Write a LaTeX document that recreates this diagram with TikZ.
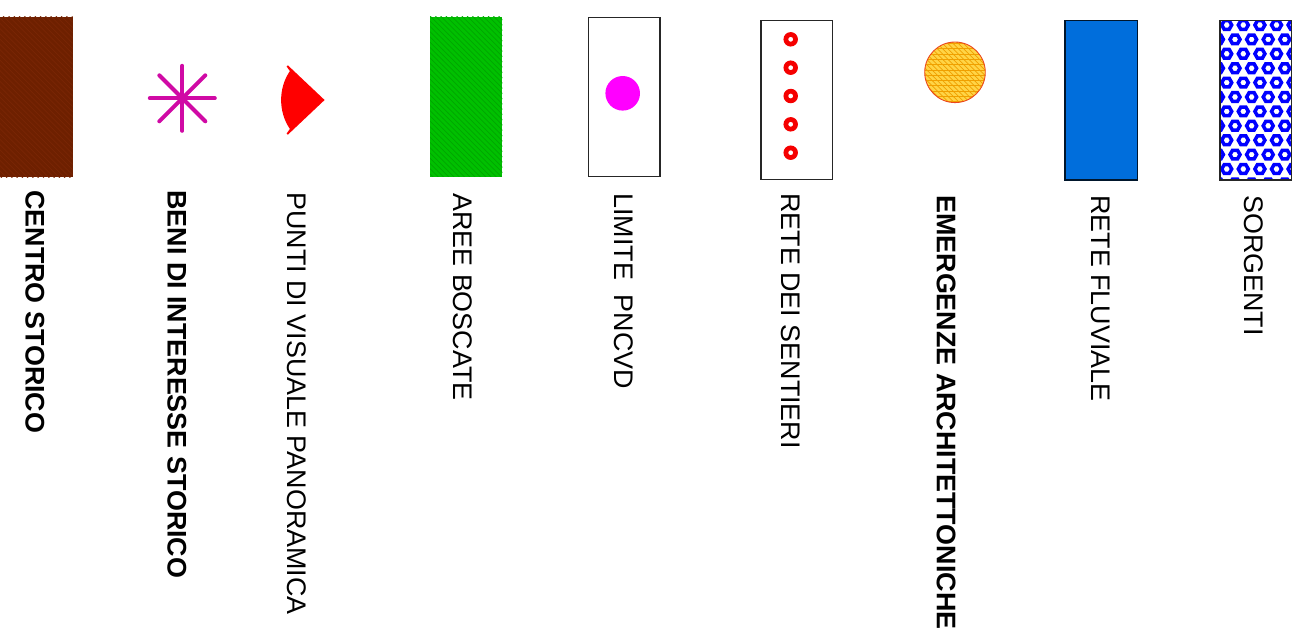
\documentclass[tikz,border=0pt]{standalone}
\usepackage{fontspec}
\setmainfont{Liberation Sans}
\usetikzlibrary{patterns}
\definecolor{brownfill}{RGB}{110,32,0}
\definecolor{brownline}{RGB}{122,38,5}
\definecolor{starmagenta}{RGB}{208,10,165}
\definecolor{viewred}{RGB}{255,0,0}
\definecolor{woodgreen}{RGB}{0,192,0}
\definecolor{woodline}{RGB}{0,165,0}
\definecolor{pncvdmagenta}{RGB}{255,0,255}
\definecolor{trailred}{RGB}{245,0,0}
\definecolor{archyellow}{RGB}{255,212,70}
\definecolor{archline}{RGB}{240,160,0}
\definecolor{archborder}{RGB}{235,70,30}
\definecolor{riverblue}{RGB}{0,110,220}
\definecolor{springblue}{RGB}{0,0,255}

\begin{document}
\begin{tikzpicture}[
    x=0.02cm, y=-0.02cm,
    legendtext/.style={
        rotate=-90, anchor=west, inner sep=0pt,
        font=\fontsize{15.3}{18}\selectfont
    },
    legendbold/.style={
        legendtext, font=\fontsize{15.3}{18}\selectfont\bfseries
    },
    frame/.style={draw=black!85, line width=0.7pt},
    star arm/.style={draw=starmagenta, line width=2.3pt, line cap=round},
    trail ring/.style={fill=trailred, even odd rule},
    hexring/.style={draw=springblue, line width=2pt}
]
\useasboundingbox (0,0) rectangle (1312,640);

% ===== Symbols =====
% centro storico
\fill[brownfill] (0,16.7) rectangle (72.7,177.3);
\fill[pattern=north west lines, pattern color=brownline] (0,16.7) rectangle (72.7,177.3);

% beni di interesse storico
\foreach \a in {0,45,...,135}
    \draw[star arm] (182.3,98.3) ++(\a:0.65cm) -- ++(\a+180:1.3cm);

% punti di visuale panoramica
\draw[fill=viewred, draw=viewred, line width=1pt, line join=miter]
    (323.3,100) -- (287.3,66) -- (291,71)
    .. controls (279,88) and (279,112) .. (291,129)
    -- (287.3,134) -- cycle;

% aree boscate
\fill[woodgreen] (430,16.7) rectangle (502.3,176.7);
\fill[pattern=north west lines, pattern color=woodline] (430,16.7) rectangle (502.3,176.7);

% limite PNCVD
\draw[frame] (588.3,17.3) rectangle (660,176.7);
\fill[pncvdmagenta] (622.7,93.3) circle[radius=0.346cm];

% rete dei sentieri
\draw[frame] (761,20.7) rectangle (832.3,179.3);
\foreach \y in {39.3,67.7,96,124.3,152.7}
    \fill[trail ring] (790.7,\y) circle[radius=0.145cm] circle[radius=0.05cm];

% emergenze architettoniche
\fill[archyellow] (955,72.3) circle[radius=0.606cm];
\fill[pattern=north west lines, pattern color=archline] (955,72.3) circle[radius=0.606cm];
\fill[pattern=horizontal lines, pattern color=archline] (955,72.3) circle[radius=0.606cm];
\draw[archborder, line width=0.5pt] (955,72.3) circle[radius=0.606cm];

% rete fluviale
\draw[fill=riverblue, draw=black!80!riverblue, line width=0.9pt] (1065,20.3) rectangle (1137.3,180);

% sorgenti
\begin{scope}
    \clip (1220,20.7) rectangle (1291.7,180);
    \foreach \j in {0,...,11}{
        \pgfmathsetmacro{\yy}{25+14.4*\j}
        \pgfmathsetmacro{\xs}{mod(\j,2)==0 ? 1226.7 : 1218.4}
        \foreach \i in {-1,...,5}{
            \pgfmathsetmacro{\xx}{\xs+16.6*\i}
            \draw[hexring] (\xx,\yy) ++(0:0.1cm) -- ++(120:0.1cm) -- ++(180:0.1cm)
                -- ++(240:0.1cm) -- ++(300:0.1cm) -- ++(0:0.1cm) -- cycle;
        }
    }
\end{scope}
\draw[frame] (1220,20.7) rectangle (1291.7,180);

% ===== Labels =====
\node[legendbold] (lCentro)   at (35,190)   {CENTRO STORICO};
\node[legendbold] (lBeni)     at (177,190)  {BENI DI INTERESSE STORICO};
\node[legendtext] (lPunti)    at (297,192)  {PUNTI DI VISUALE PANORAMICA};
\node[legendtext] (lAree)     at (463,193)  {AREE BOSCATE};
\node[legendtext] (lLimite)   at (624,193)  {LIMITE\ \ PNCVD};
\node[legendtext] (lSentieri) at (791,193)  {RETE DEI SENTIERI};
\node[legendbold] (lEmerg)    at (946,195)  {EMERGENZE ARCHITETTONICHE};
\node[legendtext] (lFluviale) at (1101,195) {RETE FLUVIALE};
\node[legendtext] (lSorgenti) at (1254,195) {SORGENTI};

\end{tikzpicture}
\end{document}
